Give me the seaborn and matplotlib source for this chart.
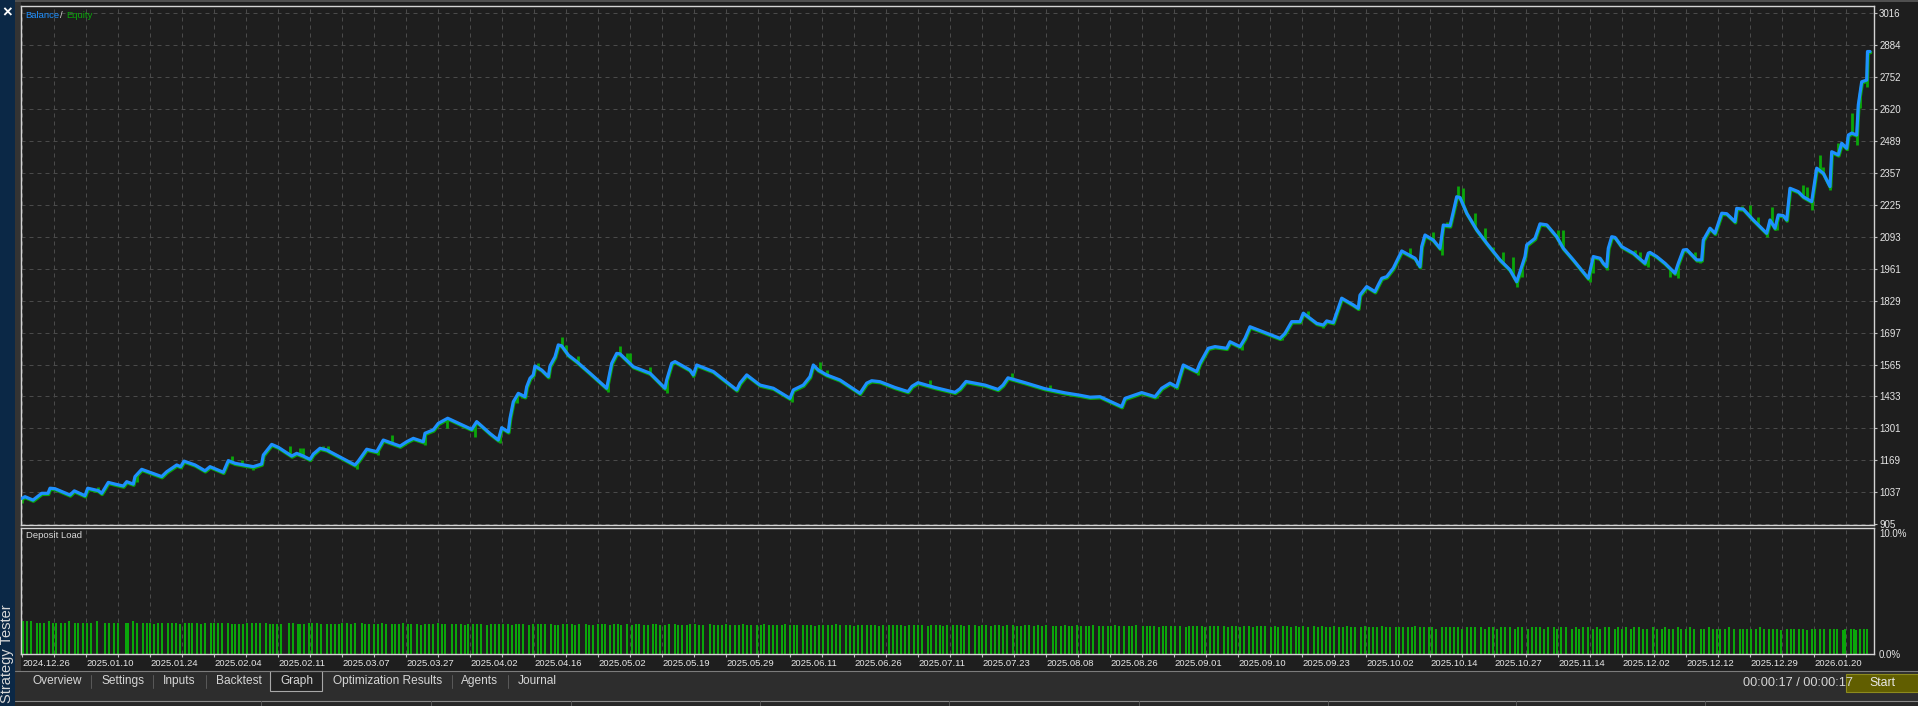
# MT5 strategy tester graph: balance / equity and deposit load
import numpy as np
import pandas as pd
import matplotlib
matplotlib.use("Agg")
import matplotlib.pyplot as plt
import matplotlib.transforms as mtransforms
import seaborn as sns
from matplotlib.patches import Rectangle

# balance curve (position on the tester x scale, balance)
deal_pos = [21.7, 25, 33, 41.7, 48, 50, 55, 70, 74.3, 85, 87.7, 98.3, 101.7, 108.3, 115, 123.3,
            126.7, 133.3, 135, 141.7, 161.7, 166.7, 176.7, 180.7, 184, 195, 205, 210, 223.3, 228.3,
            235, 253.3, 261.7, 263.3, 271.7, 278.3, 291.7, 296.7, 303.3, 310, 313.3, 320, 326.7,
            355, 358.3, 366.7, 376.7, 383.3, 400, 406.7, 413.3, 423.3, 425, 433.3, 438.3, 447.7,
            471.7, 476.7, 490, 498.3, 501.7, 508.3, 510, 513.3, 518.3, 525, 526.7, 530, 533.3, 535,
            541.7, 548.3, 550, 555, 558.3, 561.7, 568.3, 576.7, 590, 606.7, 611.7, 616.7, 620,
            633.3, 650, 665, 666.7, 671.7, 675, 690, 693.3, 696.7, 713.3, 736.7, 740, 746.7, 760,
            773.3, 790, 793.3, 803.3, 810, 813.3, 818.3, 826.7, 840, 860, 866.7, 871.7, 880, 895,
            908, 912, 918, 935, 955, 960, 966, 985, 998, 1003, 1008, 1025, 1045, 1065, 1080, 1090,
            1100, 1121.7, 1125, 1141.7, 1155, 1161.7, 1170, 1176.7, 1183.3, 1196.7, 1200, 1208.3,
            1215, 1226.7, 1230, 1240, 1245, 1250, 1280, 1285, 1291.7, 1300, 1303.3, 1316.7, 1323.3,
            1326.7, 1333.3, 1341.7, 1353.3, 1358.3, 1360, 1366.7, 1375, 1378.3, 1381.7, 1386.7,
            1393.3, 1401.7, 1415, 1420, 1421.7, 1425, 1433.3, 1440, 1443.3, 1450, 1453.3, 1456.7,
            1460, 1466.7, 1476.7, 1486.7, 1500, 1510, 1516.7, 1520, 1525, 1526.7, 1535, 1540,
            1546.7, 1556.7, 1563.3, 1573.3, 1580, 1588.3, 1593.3, 1600, 1603.3, 1606.7, 1608.3,
            1611.7, 1615, 1621.7, 1633.3, 1645, 1648.3, 1650, 1656.7, 1665, 1675, 1678.3, 1683.3,
            1686.7, 1696.7, 1701.7, 1703.3, 1710, 1715, 1718.3, 1721.7, 1726.7, 1735, 1736.7,
            1743.3, 1753.3, 1766.7, 1770, 1775, 1778.3, 1783.3, 1786.7, 1790, 1798.3, 1803.3,
            1811.7, 1816.7, 1823.3, 1826.7, 1830, 1831.7, 1838.3, 1841.7, 1846.7, 1848.3, 1851.7,
            1856.7, 1858.3, 1861.7, 1866.7, 1867.5, 1870]
balance = [1012, 1019, 1005, 1033, 1033, 1054, 1052, 1026, 1043, 1023, 1054, 1044, 1033, 1078, 1071, 1063,
           1081, 1071, 1102, 1132, 1102, 1122, 1150, 1143, 1166, 1150, 1126, 1143, 1120, 1168,
           1157, 1143, 1154, 1191, 1235, 1223, 1187, 1198, 1187, 1173, 1195, 1219, 1212,
           1150, 1166, 1215, 1205, 1253, 1228, 1246, 1260, 1246, 1281, 1295, 1322, 1343,
           1297, 1329, 1280, 1253, 1304, 1287, 1343, 1411, 1446, 1432, 1473, 1508, 1522, 1559,
           1542, 1515, 1559, 1597, 1646, 1642, 1604, 1577, 1529, 1467, 1570, 1611, 1609,
           1556, 1529, 1467, 1501, 1570, 1577, 1542, 1522, 1563, 1536, 1460, 1488, 1522, 1480,
           1467, 1425, 1460, 1480, 1515, 1563, 1542, 1522, 1501, 1446, 1488, 1498, 1494, 1470,
           1453, 1475, 1490, 1470, 1450, 1465, 1495, 1480, 1462, 1480, 1510, 1490, 1465, 1448, 1438, 1430,
           1432, 1391, 1425, 1449, 1432, 1467, 1488, 1473, 1563, 1536, 1570, 1632,
           1639, 1632, 1659, 1639, 1673, 1721, 1673, 1694, 1742, 1742, 1777, 1735, 1728,
           1745, 1738, 1839, 1811, 1797, 1852, 1887, 1866, 1894, 1921, 1928,
           1963, 2034, 2004, 1969, 2052, 2100, 2079, 2045, 2141, 2138, 2196, 2258,
           2255, 2190, 2121, 2066, 1997, 1956, 1907, 1948, 2011, 2059, 2086, 2146,
           2142, 2093, 2045, 1997, 1963, 1921, 2011, 2004, 1983, 1969, 2045,
           2093, 2090, 2052, 2025, 1983, 2025, 2028, 2011, 1983, 1942, 1983, 2038,
           2040, 1997, 1997, 2079, 2128, 2107, 2148, 2190, 2188, 2155, 2210,
           2207, 2162, 2107, 2162, 2128, 2183, 2180, 2162, 2293, 2279, 2258,
           2238, 2376, 2355, 2327, 2300, 2444, 2431, 2479, 2458, 2513, 2521,
           2513, 2637, 2733, 2740, 2858, 2858]

# where equity ran away from balance (floating profit / drawdown)
spike_pos = [22, 98.3, 137, 232, 241.7, 253, 290, 300, 303, 323, 328, 357, 378, 391.7, 425, 446.7,
             475, 500, 516.7, 521.7, 538, 561.7, 566, 578, 608, 620, 626.7, 630, 650, 666.7, 693.3,
             791.7, 820, 826.7, 930, 1012, 1050, 1121.7, 1156.7, 1176.7, 1198.3, 1241.7, 1281.7,
             1308.3, 1323.3, 1363, 1410, 1416.7, 1433.3, 1441.7, 1446.7, 1458.3, 1463.3, 1475, 1485,
             1493.3, 1503.3, 1513.3, 1516.7, 1521.7, 1558.3, 1563.3, 1590, 1593.3, 1606.7, 1635,
             1640, 1648.3, 1670, 1678.3, 1695, 1700, 1741.7, 1750, 1758.3, 1766.7, 1771.7, 1776.7,
             1788.3, 1803.3, 1806.7, 1811.7, 1815, 1820, 1823.3, 1830, 1838.3, 1846.7, 1851.7,
             1856.7, 1860, 1866.7]
spike_equity = [994, 1060, 1081, 1187, 1170, 1129, 1228, 1220, 1220, 1228, 1228, 1134, 1191, 1274, 1233, 1302,
                1267, 1240, 1406, 1427, 1570, 1680, 1645, 1601, 1453, 1642, 1611, 1611, 1556, 1447, 1515,
                1411, 1577, 1542, 1500, 1528, 1482, 1385, 1427, 1465, 1522, 1625, 1667,
                1784, 1715, 1866, 2045, 1976, 2114, 2017, 2155, 2303, 2293, 2190, 2128,
                2052, 2031, 2011, 1887, 1928, 2121, 2121, 1907, 1943, 1955, 2038,
                2030, 1969, 1928, 1921, 2031, 1983, 2221, 2224, 2176, 2093, 2215, 2121,
                2231, 2307, 2300, 2204, 2320, 2431, 2382, 2286, 2479, 2451, 2603,
                2472, 2624, 2713]

# deposit load bars: first bar, spacing between bars, load in %
first_bar = 23.3
bar_gaps = [3.5, 4, 6, 3.5, 4, 5, 3.5, 3.5, 5, 4, 4, 6, 2.5, 5, 4.5, 3.5, 6.5, 7.5, 4.5, 4.5,
            4.5, 7.5, 2.5, 5, 3.5, 6.5, 3.5, 3.5, 4, 4, 3.5, 6, 4, 4.5, 4, 5, 3.5, 3.5, 4.5, 4,
            4.5, 6, 3, 3.5, 4, 6, 4, 3.5, 4, 3.5, 4.5, 4.5, 4.5, 3.5, 6.5, 3.5, 3.5, 3.5, 4.5, 7.5,
            4, 5, 2.5,
            4, 4.5, 3.5, 5, 4, 6, 3.5, 4, 4.5, 3, 5, 4, 4, 6.5, 3.5, 4, 5, 3.5, 4.5, 4,
            5.5, 3.5, 4, 4, 4.5, 3, 6, 4, 4.5, 3.5, 4, 5, 4, 3.5, 7, 4, 4.5, 4, 3.5, 5,
            4, 4, 6, 3.5, 4.5, 4, 3.5, 5, 4, 4.5, 3, 4, 6, 4, 4.5, 3.5, 4, 5.5, 4, 3.5,
            4.5, 4, 5, 3.5, 4, 6.5, 3.5, 4, 4.5, 4, 3.5, 5, 4, 4, 3, 6, 4.5, 4, 3.5, 4.5,
            4, 5, 3.5, 4, 4.5, 4, 6, 3.5, 4, 4.5, 3.5, 5, 4, 4, 7, 3.5, 4, 4.5, 4, 3.5,
            5, 4, 4.5, 3.5, 4, 6, 4, 3.5, 4.5, 4, 4, 5, 3.5, 4.5, 4, 3, 6, 4, 4.5, 4,
            3.5, 4, 5, 4.5, 4, 3.5, 6.5, 4, 4, 3.5, 4.5, 5, 4, 3.5, 4, 4.5, 6, 3.5, 4, 4,
            4.5, 3.5, 5, 4, 4, 6, 3.5, 4.5, 4, 3.5, 4, 5.5, 4, 4, 3.5, 4.5, 6, 4, 3.5, 4,
            5, 4, 3.5, 4.5, 4, 6, 4, 3.5, 4, 4.5, 5, 3.5, 4, 4, 7, 3.5, 4.5, 4, 4, 3.5,
            4.5, 4, 5, 3.5, 4, 6, 4, 4.5, 3.5, 4, 4, 5, 4.5, 3.5, 4, 6.5, 4, 3.5, 4, 4.5,
            4, 3.5, 5, 4, 4.5, 6, 3.5, 4, 4, 4.5, 3.5, 5, 4, 4, 6, 3.5, 4.5, 4, 3.5, 4,
            5, 4, 4.5, 3.5, 4, 6, 4, 3.5, 4.5, 4, 4, 5, 3.5, 4, 4.5, 6.5, 3.5, 4, 4, 4.5,
            4, 5, 3.5, 4, 4.5, 4, 6, 3.5, 4, 4.5, 3.5, 5, 4, 4, 6, 3.5, 4, 4.5, 4, 3.5,
            4.5, 4, 5, 3.5, 4, 6, 3.5, 4, 4.5, 4, 3.5, 5, 4, 4, 6.5, 4, 3.5, 4.5, 4, 4,
            4, 4.5, 5, 3.5, 4, 6, 4, 3.5, 4.5, 4, 4, 5.5, 3.5, 4, 4.5, 6, 4, 3.5, 4, 4.5,
            5, 4, 3.5, 4.5, 4, 6, 3.5, 4, 4, 4.5, 3.5, 5, 4, 4, 6, 4, 4.5, 3.5, 4, 4,
            4.5, 3.5, 5, 4, 4, 6.5, 3.5, 4.5, 4, 4, 3.5, 5, 4, 4.5, 6, 3.5, 4, 4, 4.5, 4,
            4, 5, 4.5, 3.5, 4, 6, 4, 3.5, 4.5, 4, 4, 5, 3.5, 4.5, 4, 6,
            4, 3.5, 6, 2, 6, 2.5, 2.5, 3.5, 4, 3]
deposit_load = [2.7, 2.7, 2.7, 2.6, 2.6, 2.6, 2.7, 2.6, 2.6, 2.6, 2.6, 2.7, 2.6, 2.6, 2.6, 2.6, 2.6, 2.7, 2.6, 2.6,
                2.6, 2.6, 2.6, 2.6, 2.7, 2.6, 2.6, 2.6, 2.6, 2.5, 2.6, 2.6, 2.6, 2.6, 2.6, 2.5, 2.6, 2.6, 2.6, 2.6,
                2.5, 2.6, 2.6, 2.6, 2.6, 2.6, 2.6, 2.5, 2.5, 2.5, 2.5, 2.6, 2.6, 2.6, 2.6, 2.6, 2.5, 2.5, 2.5, 2.5,
                2.6, 2.6, 2.5, 2.5, 2.5, 2.6, 2.6, 2.6, 2.5, 2.5, 2.5, 2.5, 2.5, 2.6, 2.6, 2.5, 2.6, 2.6, 2.5, 2.5,
                2.5, 2.5, 2.6, 2.5, 2.5, 2.5, 2.5, 2.6, 2.5, 2.5, 2.5, 2.4, 2.5, 2.5, 2.5, 2.6, 2.5, 2.5, 2.5, 2.5,
                2.5, 2.4, 2.5, 2.5, 2.5, 2.5, 2.4, 2.5, 2.5, 2.5, 2.5, 2.5, 2.4, 2.5, 2.5, 2.5, 2.4, 2.5, 2.5, 2.5,
                2.5, 2.5, 2.4, 2.4, 2.5, 2.5, 2.5, 2.4, 2.5, 2.5, 2.4, 2.4, 2.5, 2.5, 2.5, 2.4, 2.5, 2.5, 2.4, 2.5,
                2.4, 2.5, 2.5, 2.4, 2.4, 2.5, 2.5, 2.4, 2.4, 2.5, 2.5, 2.4, 2.4, 2.4, 2.5, 2.5, 2.4, 2.4, 2.5, 2.4,
                2.4, 2.4, 2.5, 2.4, 2.4, 2.4, 2.5, 2.4, 2.4, 2.4, 2.4, 2.5, 2.4, 2.4, 2.4, 2.4, 2.5, 2.4, 2.4, 2.4,
                2.4, 2.4, 2.4, 2.3, 2.4, 2.4, 2.4, 2.4, 2.5, 2.4, 2.4, 2.4, 2.3, 2.4, 2.4, 2.4, 2.4, 2.4, 2.3, 2.4,
                2.4, 2.4, 2.4, 2.4, 2.3, 2.4, 2.4, 2.4, 2.4, 2.3, 2.4, 2.4, 2.4, 2.3, 2.4, 2.4, 2.4, 2.4, 2.3, 2.4,
                2.4, 2.3, 2.4, 2.4, 2.3, 2.4, 2.4, 2.3, 2.4, 2.4, 2.3, 2.3, 2.4, 2.4, 2.3, 2.4, 2.3, 2.4, 2.3, 2.3,
                2.3, 2.4, 2.3, 2.3, 2.4, 2.3, 2.3, 2.3, 2.4, 2.3, 2.3, 2.3, 2.3, 2.4, 2.3, 2.3, 2.3, 2.3, 2.4, 2.3,
                2.3, 2.3, 2.3, 2.2, 2.3, 2.3, 2.3, 2.3, 2.3, 2.2, 2.3, 2.3, 2.3, 2.3, 2.2, 2.3, 2.3, 2.3, 2.3, 2.2,
                2.3, 2.3, 2.2, 2.3, 2.3, 2.2, 2.3, 2.3, 2.3, 2.2, 2.3, 2.2, 2.3, 2.3, 2.2, 2.3, 2.2, 2.3, 2.2, 2.3,
                2.2, 2.3, 2.2, 2.2, 2.3, 2.2, 2.2, 2.3, 2.2, 2.2, 2.2, 2.3, 2.2, 2.2, 2.2, 2.3, 2.2, 2.2, 2.2, 2.2,
                2.2, 2.2, 2.2, 2.3, 2.2, 2.2, 2.2, 2.2, 2.1, 2.2, 2.2, 2.2, 2.2, 2.2, 2.1, 2.2, 2.2, 2.2, 2.2, 2.1,
                2.2, 2.2, 2.1, 2.2, 2.2, 2.2, 2.1, 2.2, 2.2, 2.1, 2.2, 2.2, 2.2, 2.1, 2.2, 2.2, 2.1, 2.2, 2.2, 2.1,
                2.2, 2.1, 2.2, 2.2, 2.1, 2.2, 2.1, 2.2, 2.2, 2.1, 2.2, 2.1, 2.2, 2.1, 2.2, 2.2, 2.1, 2.1, 2.2, 2.1,
                2.1, 2.2, 2.1, 2.1, 2.2, 2.1, 2.1, 2.2, 2.1, 2.1, 2.1, 2.2, 2.1, 2.1, 2.1, 2.1, 2.2, 2.1, 2.1, 2.1,
                2.1, 2.1, 2.1, 2.2, 2.1, 2.1, 2.1, 2.1, 2.0, 2.1, 2.1, 2.1, 2.1, 2.1, 2.0, 2.1, 2.1, 2.1, 2.1, 2.1,
                2.1, 2.1, 2.0, 2.1, 2.1, 2.1, 2.0, 2.1, 2.1, 2.1]

date_labels = ["2024.12.26", "2025.01.10", "2025.01.24", "2025.02.04", "2025.02.11", "2025.03.07",
               "2025.03.27", "2025.04.02", "2025.04.16", "2025.05.02", "2025.05.19", "2025.05.29",
               "2025.06.11", "2025.06.26", "2025.07.11", "2025.07.23", "2025.08.08", "2025.08.26",
               "2025.09.01", "2025.09.10", "2025.09.23", "2025.10.02", "2025.10.14", "2025.10.27",
               "2025.11.14", "2025.12.02", "2025.12.12", "2025.12.29", "2026.01.20"]
y_ticks = [905, 1037, 1169, 1301, 1433, 1565, 1697, 1829, 1961, 2093, 2225, 2357, 2489, 2620, 2752, 2884, 3016]

tabs = ["Overview", "Settings", "Inputs", "Backtest", "Graph", "Optimization Results", "Agents", "Journal"]

# colours
BG = "#1e1e1e"
BLUE = "#1e90ff"
GREEN = "#0aa60a"
FRAME = "#d4d4d4"
GRID = "#4a4a4a"
TXT = "#e6e6e6"

W, H = 1918, 706


def fig_rect(l, t, r, b):
    return [l / W, 1 - b / H, (r - l) / W, (b - t) / H]


def fx(x):
    return x / W


def fy(y):
    return 1 - y / H


sns.set_theme(style="dark")
plt.rcParams['font.family'] = ['Liberation Sans', 'DejaVu Sans']

fig = plt.figure(figsize=(W / 100, H / 100), dpi=100, facecolor=BG)

# window chrome drawn in pixel coordinates
chrome = fig.add_axes([0, 0, 1, 1], zorder=-5)
chrome.set_xlim(0, W)
chrome.set_ylim(H, 0)
chrome.axis('off')
chrome.add_patch(Rectangle((0, 0), 15, H, color="#0b2846", lw=0))
chrome.add_patch(Rectangle((15, 0), 5.5, 671, color="#333333", lw=0))
chrome.add_patch(Rectangle((15, 0), W, 1.5, color="#505050", lw=0))
chrome.add_patch(Rectangle((15, 671), W, 29.5, color="#2d2d2d", lw=0))
chrome.add_patch(Rectangle((15, 701), W, 5, color="#262626", lw=0))
chrome.plot([15, W], [671, 671], color="#7c7c7c", lw=0.8)
chrome.plot([15, W], [700.5, 700.5], color="#8a8a8a", lw=0.8)
for sx in [261, 431, 571, 760, 949, 1139, 1328, 1516, 1705]:
    chrome.plot([sx, sx], [701, H], color="#555555", lw=0.7)
for sx in [90.6, 153, 206, 451.8, 508]:
    chrome.plot([sx, sx], [675, 688], color="#5a5a5a", lw=0.7)
chrome.add_patch(Rectangle((270, 671), 51.6, 20, facecolor="#222222", edgecolor="#a8a8a8", lw=0.8))
chrome.add_patch(Rectangle((1846, 674), 72, 18, facecolor="#615e00", edgecolor="#8c8a1e", lw=0.8))

tab_x = [32.7, 101, 163, 216, 280, 332.7, 461, 518]
for name, x in zip(tabs, tab_x):
    chrome.text(x, 681, name, color="#d6d6d6", fontsize=8.6, va='center', ha='left')
chrome.text(1743, 682.5, "00:00:17 / 00:00:17", color="#d6d6d6", fontsize=9.2, va='center', ha='left')
chrome.text(1882, 683, "Start", color="#e8e8e8", fontsize=8.8, va='center', ha='center')
chrome.text(7.2, 12.5, "\u00d7", color="white", fontsize=12, fontweight='bold', va='center', ha='center')
chrome.text(7.5, 703, "Strategy Tester", color="#d8d8d8", fontsize=10.5, rotation=90,
            va='bottom', ha='center')

# main balance / equity panel
ax = fig.add_axes(fig_rect(21, 6, 1874, 525), facecolor=BG)
curve = pd.DataFrame({"deal": deal_pos, "balance": balance})
# equity hugs the balance line, drawn a pixel lower so its edge shows
lag = mtransforms.offset_copy(ax.transData, fig=fig, x=0.5, y=-1.0, units='dots')
sns.lineplot(data=curve, x="deal", y="balance", ax=ax, color=GREEN, lw=2.6,
             sort=False, estimator=None, zorder=2, transform=lag)
spike_base = np.interp(spike_pos, deal_pos, balance)
ax.vlines(spike_pos, spike_base, spike_equity, color=GREEN, lw=2.0, zorder=2)
sns.lineplot(data=curve, x="deal", y="balance", ax=ax, color=BLUE, lw=2.3,
             sort=False, estimator=None, zorder=3)

grid_x = np.arange(22.4, 1874, 32)
ax.set_xlim(21, 1874)
ax.set_ylim(902, 3046)
ax.set_xticks(grid_x)
ax.set_yticks(y_ticks)
ax.set_yticklabels([str(v) for v in y_ticks])
ax.yaxis.tick_right()
ax.tick_params(axis='x', length=0, labelbottom=False, bottom=False)
ax.tick_params(axis='y', right=True, left=False, length=2.2, width=0.8, color="#bdbdbd",
               pad=1.5, labelsize=7.0, labelcolor=TXT)
ax.grid(True, color=GRID, lw=0.72, linestyle=(0, (4, 4)))
ax.set_xlabel("")
ax.set_ylabel("")
for sp in ax.spines.values():
    sp.set_visible(True)
    sp.set_color(FRAME)
    sp.set_linewidth(1.0)

# deposit load panel
ax2 = fig.add_axes(fig_rect(21, 527.5, 1874, 654), facecolor=BG)
bar_x = first_bar + np.concatenate([[0], np.cumsum(bar_gaps)])
n = min(len(bar_x), len(deposit_load))
ax2.bar(bar_x[:n], deposit_load[:n], width=2.0, color=GREEN, lw=0, zorder=2)
ax2.set_xlim(21, 1874)
ax2.set_ylim(0, 10.45)
ax2.set_xticks(grid_x[::2])
ax2.set_xticklabels(date_labels[:len(grid_x[::2])], ha='left')
ax2.set_xticks(grid_x[1::2], minor=True)
ax2.set_yticks([0, 10])
ax2.set_yticklabels(["0.0%", "10.0%"])
ax2.yaxis.tick_right()
ax2.tick_params(axis='x', which='both', bottom=True, length=2.5, width=0.8, color="#bdbdbd",
                pad=0.8, labelsize=6.8, labelcolor=TXT)
ax2.tick_params(axis='y', right=True, left=False, length=0, pad=3.5, labelsize=7.0, labelcolor=TXT)
ax2.xaxis.grid(True, which='both', color=GRID, lw=0.72, linestyle=(0, (4, 4)))
ax2.yaxis.grid(False)
for sp in ax2.spines.values():
    sp.set_visible(True)
    sp.set_color(FRAME)
    sp.set_linewidth(1.0)

# panel captions
fig.text(fx(25.5), fy(15), "Balance", color=BLUE, fontsize=6.8, va='center', ha='left')
fig.text(fx(59.5), fy(15), "/", color="#d8d8d8", fontsize=6.8, va='center', ha='left')
fig.text(fx(66.3), fy(15), "Equity", color=GREEN, fontsize=6.8, va='center', ha='left')
fig.text(fx(25.5), fy(535.5), "Deposit Load", color="#dadada", fontsize=6.8, va='center', ha='left')

fig.savefig("out.png", dpi=100, facecolor=BG)
